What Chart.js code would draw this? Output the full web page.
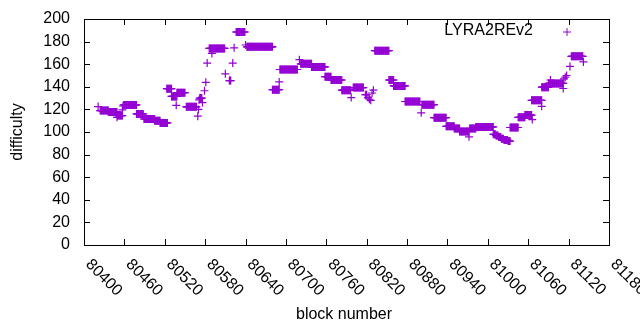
<!DOCTYPE html>
<html>
<head>
<meta charset="utf-8">
<script src="https://cdn.jsdelivr.net/npm/chart.js@4/dist/chart.umd.min.js"></script>
<style>
  html, body { margin: 0; padding: 0; background: #fff; }
  #wrap { width: 640px; height: 330px; }
</style>
</head>
<body>
<div id="wrap"><canvas id="diffChart" width="640" height="330"></canvas></div>
<script>
// runs of blocks that share the same difficulty (start block, end block, value)
const runStart = [
  80421, 80424, 80436, 80449, 80450, 80457, 80458, 80459, 80478, 80489,
  80505, 80513, 80523, 80530, 80537, 80538, 80552, 80569, 80570, 80571,
  80572, 80576, 80579, 80581, 80583, 80586, 80590, 80610, 80616, 80621,
  80623, 80626, 80640, 80642, 80680, 80690, 80691, 80720, 80722, 80738,
  80758, 80767, 80783, 80797, 80800, 80818, 80822, 80824, 80826, 80828,
  80830, 80832, 80853, 80860, 80877, 80901, 80902, 80920, 80938, 80950,
  80958, 80972, 80973, 80982, 81008, 81012, 81016, 81020, 81024, 81030,
  81033, 81045, 81055, 81066, 81065, 81080, 81080, 81090, 81093, 81112,
  81113, 81115, 81117, 81122, 81124, 81142
];
const runEnd = [
  80421, 80436, 80449, 80449, 80457, 80457, 80458, 80478, 80488, 80505,
  80513, 80524, 80530, 80538, 80537, 80550, 80567, 80569, 80570, 80571,
  80575, 80576, 80579, 80581, 80583, 80609, 80590, 80610, 80618, 80621,
  80623, 80639, 80640, 80680, 80690, 80690, 80717, 80720, 80738, 80758,
  80767, 80783, 80796, 80797, 80815, 80820, 80822, 80824, 80826, 80828,
  80830, 80853, 80860, 80877, 80899, 80901, 80920, 80938, 80950, 80958,
  80972, 80972, 80982, 81008, 81011, 81015, 81019, 81023, 81029, 81033,
  81045, 81055, 81065, 81066, 81080, 81080, 81090, 81112, 81093, 81112,
  81113, 81115, 81117, 81122, 81141, 81142
];
const runDifficulty = [
  122.5, 119, 117.8, 113, 114.5, 119.5, 123, 124, 116, 111.5,
  110, 108, 138.3, 131.5, 123.6, 134.8, 122.3, 114, 120, 128.5,
  130, 126, 136.5, 144, 161, 174, 169.5, 151.5, 145.5, 161,
  174.5, 188.5, 177, 175.4, 137.5, 144.3, 155.3, 164, 160.3, 157.6,
  149, 146, 137, 130.5, 139.3, 133, 130.5, 129, 128, 134.5,
  137, 172, 146, 140.8, 127, 117, 124.2, 112.7, 105, 103,
  100.5, 95.7, 103, 104.5, 98, 97, 95.5, 94, 93, 92,
  104, 113, 115, 111, 128, 122.7, 139.7, 143, 146, 138.5,
  147, 148.5, 150, 158, 167, 162
];

const xTicks = [80400, 80460, 80520, 80580, 80640, 80700, 80760, 80820, 80880, 80940, 81000, 81060, 81120, 81180];
const yTicks = [0, 20, 40, 60, 80, 100, 120, 140, 160, 180, 200];
const seriesName = 'LYRA2REv2';
const purple = '#9400d3';
const font = '16px "Liberation Sans", Arial, sans-serif';

const points = [];
runStart.forEach((s, i) => {
  for (let b = s; b <= runEnd[i]; b++) {
    points.push({ x: b, y: runDifficulty[i] });
  }
});

// gnuplot-like frame: box, inward ticks on all sides, rotated x labels, key
const gnuFrame = {
  id: 'gnuFrame',
  afterDraw(chart) {
    const { ctx, chartArea } = chart;
    const { left, right, top, bottom } = chartArea;
    const xs = chart.scales.x;
    const ys = chart.scales.y;
    ctx.save();
    ctx.strokeStyle = '#000';
    ctx.lineWidth = 1;
    ctx.strokeRect(left + 0.5, top + 0.5, right - left, bottom - top);

    ctx.beginPath();
    xTicks.forEach((v) => {
      const px = Math.round(xs.getPixelForValue(v)) + 0.5;
      ctx.moveTo(px, bottom); ctx.lineTo(px, bottom - 6);
      ctx.moveTo(px, top); ctx.lineTo(px, top + 6);
    });
    yTicks.forEach((v) => {
      const py = Math.round(ys.getPixelForValue(v)) + 0.5;
      ctx.moveTo(left, py); ctx.lineTo(left + 6, py);
      ctx.moveTo(right, py); ctx.lineTo(right - 6, py);
    });
    ctx.stroke();

    ctx.fillStyle = '#000';
    ctx.font = font;
    ctx.textAlign = 'right';
    ctx.textBaseline = 'middle';
    yTicks.forEach((v) => {
      ctx.fillText(String(v), left - 14, ys.getPixelForValue(v));
    });

    ctx.textAlign = 'left';
    xTicks.forEach((v) => {
      const px = xs.getPixelForValue(v);
      ctx.save();
      ctx.translate(px + 4, bottom + 17);
      ctx.rotate(Math.PI / 4);
      ctx.fillText(String(v), 0, 0);
      ctx.restore();
    });

    // axis titles
    ctx.textAlign = 'center';
    ctx.fillText('block number', 344, 315);
    ctx.save();
    ctx.translate(18, (top + bottom) / 2);
    ctx.rotate(-Math.PI / 2);
    ctx.fillText('difficulty', 0, 0);
    ctx.restore();

    // key
    ctx.textAlign = 'right';
    ctx.fillText(seriesName, 533, 31);
    ctx.strokeStyle = purple;
    ctx.beginPath();
    ctx.moveTo(563, 32); ctx.lineTo(571, 32);
    ctx.moveTo(567, 28); ctx.lineTo(567, 36);
    ctx.stroke();
    ctx.restore();
  }
};

new Chart(document.getElementById('diffChart'), {
  type: 'scatter',
  data: {
    datasets: [{
      label: seriesName,
      data: points,
      pointStyle: 'cross',
      pointRadius: 4,
      pointHoverRadius: 4,
      borderColor: purple,
      backgroundColor: purple,
      borderWidth: 1.2
    }]
  },
  options: {
    responsive: false,
    animation: false,
    layout: { padding: { left: 84, right: 31, top: 19, bottom: 85 } },
    plugins: { legend: { display: false }, tooltip: { enabled: false } },
    scales: {
      x: { type: 'linear', min: 80400, max: 81180, display: false },
      y: { min: 0, max: 200, display: false }
    }
  },
  plugins: [gnuFrame]
});
</script>
</body>
</html>
